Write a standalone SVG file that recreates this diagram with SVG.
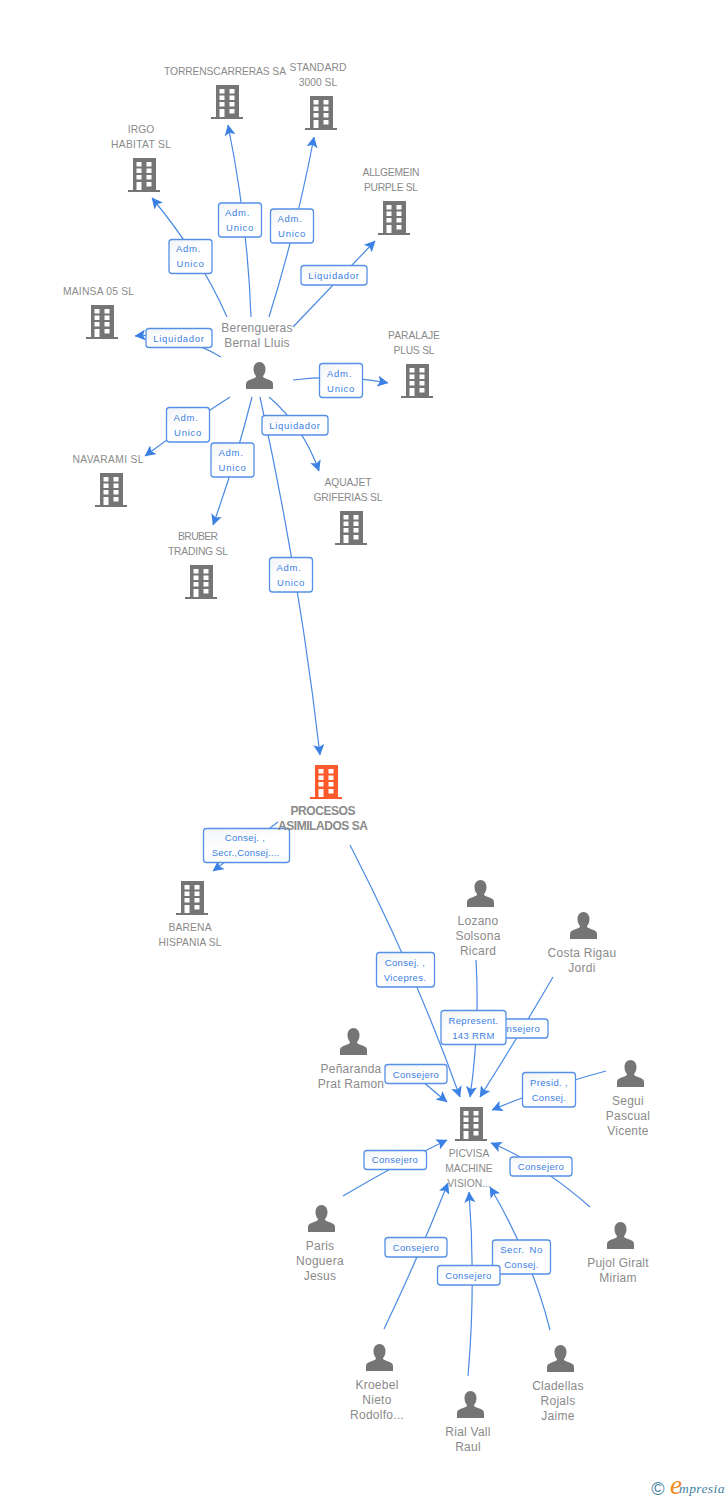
<svg xmlns="http://www.w3.org/2000/svg" width="728" height="1500" viewBox="0 0 728 1500">
<style>
text{font-family:"Liberation Sans",Arial,sans-serif}
.n{font-size:10.300px;fill:#8a8a8a;text-anchor:middle}
.p{font-size:12px;fill:#8a8a8a;text-anchor:middle;letter-spacing:.25px}
.b{font-size:12px;fill:#8a8a8a;text-anchor:middle;font-weight:bold}
.l{font-size:9.500px;fill:#3b80e4;text-anchor:middle;letter-spacing:.7px}
.t{letter-spacing:.35px}
.box{fill:url(#g);stroke:#5590e6;stroke-width:1.3}
.e{fill:none;stroke:#4a8ae4;stroke-width:1.2;marker-end:url(#a)}
</style>
<defs>
<linearGradient id="g" x1="0" y1="0" x2="0.6" y2="1"><stop offset="0" stop-color="#f1f3f6"/><stop offset=".55" stop-color="#fff"/></linearGradient>
<marker id="a" viewBox="0 0 11 11" refX="10.500" refY="5.500" markerWidth="11" markerHeight="11" markerUnits="userSpaceOnUse" orient="auto"><path d="M0 0L11 5.500L0 11L2.500 5.500z" fill="#3b80e4"/></marker>
<path id="bl" fill-rule="evenodd" d="M5 0H28V32H32V34H0V32H5zM8.500 4V8.500H13.500V4zM18.500 4V8.500H23.500V4zM8.500 10.500V15H13.500V10.500zM18.500 10.500V15H23.500V10.500zM8.500 17V21.500H13.500V17zM18.500 17V21.500H23.500V17zM8.500 24V32H13.500V24zM18.500 24V28.500H23.500V24z"/>
<path id="pe" d="M13.500 0C17 0 19.500 3 19.500 7C19.500 10 18.500 12.500 17 14C17 15.500 18 16 21 17C25 18.300 27 19.500 27 22V27H0V22C0 19.500 2 18.300 6 17C9 16 10 15.500 10 14C8.500 12.500 7.500 10 7.500 7C7.500 3 10 0 13.500 0z"/>
</defs>
<rect width="728" height="1500" fill="#fff"/>
<g id="connectors">
<path class="e" d="M221 357Q178 332 135 336"/>
<path class="e" d="M227 317Q200.500 256.500 152 198"/>
<path class="e" d="M251 317Q247.500 221 228 125"/>
<path class="e" d="M269 317Q297 227 314 137"/>
<path class="e" d="M293 327Q334 284 375 241"/>
<path class="e" d="M293 380Q340 374 388 383"/>
<path class="e" d="M230 397Q188 424 145 456"/>
<path class="e" d="M252 397Q236 461 213 525"/>
<path class="e" d="M269 397Q303 426 319 471"/>
<path class="e" d="M260 397Q299.500 576 320 755"/>
<path class="e" d="M278 822Q246 846 213 871"/>
<path class="e" d="M350 845Q415 971 460 1097"/>
<path class="e" d="M476 960Q480 1028 470 1097"/>
<path class="e" d="M553 977Q518 1037 480 1097"/>
<path class="e" d="M410 1070Q425 1084 447 1102"/>
<path class="e" d="M606 1071Q549 1086 492 1110"/>
<path class="e" d="M343 1196Q395 1165 447 1140"/>
<path class="e" d="M590 1207Q540 1163 491 1143"/>
<path class="e" d="M384 1329Q419 1256 448 1183"/>
<path class="e" d="M468 1376Q476 1284 469 1192"/>
<path class="e" d="M550 1330Q532 1258 490 1187"/>
</g>
<g id="edge-labels">
<g><rect class="box" x="218.500" y="203" width="43" height="34" rx="3"/><text class="l" x="237.500" y="216">Adm.</text><text class="l" x="240" y="231">Unico</text></g>
<g><rect class="box" x="270.500" y="209" width="43" height="34" rx="3"/><text class="l" x="290" y="222">Adm.</text><text class="l" x="292" y="237">Unico</text></g>
<g><rect class="box" x="169" y="239.500" width="43" height="34" rx="3"/><text class="l" x="188.500" y="252">Adm.</text><text class="l" x="190.500" y="267">Unico</text></g>
<g><rect class="box" x="301" y="265.500" width="66" height="19.500" rx="3"/><text class="l" x="334" y="279">Liquidador</text></g>
<g><rect class="box" x="146" y="328.500" width="66" height="19" rx="3"/><text class="l" x="179" y="342">Liquidador</text></g>
<g><rect class="box" x="319.500" y="363.500" width="43" height="34" rx="3"/><text class="l" x="339.500" y="377">Adm.</text><text class="l" x="341" y="392">Unico</text></g>
<g><rect class="box" x="166.500" y="407.500" width="43" height="34.500" rx="3"/><text class="l" x="186" y="421">Adm.</text><text class="l" x="188" y="436">Unico</text></g>
<g><rect class="box" x="211" y="443" width="43" height="34" rx="3"/><text class="l" x="231" y="456">Adm.</text><text class="l" x="232.500" y="471">Unico</text></g>
<g><rect class="box" x="262" y="415.500" width="66" height="19.500" rx="3"/><text class="l" x="295" y="429">Liquidador</text></g>
<g><rect class="box" x="269.500" y="557.500" width="43" height="34.500" rx="3"/><text class="l" x="289" y="571">Adm.</text><text class="l" x="291" y="586">Unico</text></g>
<g><rect class="box" x="203.500" y="828.500" width="86" height="34" rx="3"/><text class="l t" x="245" y="841">Consej. ,</text><text class="l" x="245.500" y="856" style="letter-spacing:.2px">Secr.,Consej....</text></g>
<g><rect class="box" x="376.500" y="952.500" width="58" height="34.500" rx="3"/><text class="l t" x="405" y="966">Consej. ,</text><text class="l t" x="405" y="981">Vicepres.</text></g>
<g><rect class="box" x="486" y="1019" width="62" height="19" rx="3"/><text class="l t" x="517" y="1032">Consejero</text></g>
<g><rect class="box" x="441" y="1010.500" width="65" height="34" rx="3"/><text class="l t" x="473.500" y="1024">Represent.</text><text class="l t" x="473.500" y="1039">143 RRM</text></g>
<g><rect class="box" x="385" y="1064.500" width="62" height="19" rx="3"/><text class="l t" x="416" y="1078">Consejero</text></g>
<g><rect class="box" x="522.500" y="1072.500" width="53" height="34.500" rx="3"/><text class="l t" x="549" y="1086">Presid. ,</text><text class="l t" x="549" y="1101">Consej.</text></g>
<g><rect class="box" x="364" y="1150.500" width="62.500" height="19" rx="3"/><text class="l t" x="395" y="1163">Consejero</text></g>
<g><rect class="box" x="510" y="1157" width="62" height="19" rx="3"/><text class="l t" x="541" y="1170">Consejero</text></g>
<g><rect class="box" x="385" y="1237.500" width="62" height="19.500" rx="3"/><text class="l t" x="416" y="1251">Consejero</text></g>
<g><rect class="box" x="492.500" y="1240" width="58" height="34" rx="3"/><text class="l" x="521.500" y="1253" style="word-spacing:2px;letter-spacing:.5px">Secr. No</text><text class="l t" x="521.500" y="1268">Consej.</text></g>
<g><rect class="box" x="437.500" y="1265.500" width="62.500" height="19.500" rx="3"/><text class="l t" x="468.500" y="1279">Consejero</text></g>
</g>
<g id="torrens" fill="#757575"><use href="#bl" x="211" y="85"/><text class="n" x="225" y="75" textLength="122">TORRENSCARRERAS SA</text></g>
<g id="standard" fill="#757575"><use href="#bl" x="305" y="96"/><text class="n" x="318" y="71" textLength="57">STANDARD</text><text class="n" x="318" y="86">3000 SL</text></g>
<g id="irgo" fill="#757575"><use href="#bl" x="128" y="158"/><text class="n" x="141" y="133">IRGO</text><text class="n" x="141" y="148" textLength="60">HABITAT SL</text></g>
<g id="allgemein" fill="#757575"><use href="#bl" x="378" y="201"/><text class="n" x="391" y="176" textLength="57">ALLGEMEIN</text><text class="n" x="391" y="191" textLength="54">PURPLE SL</text></g>
<g id="mainsa" fill="#757575"><use href="#bl" x="86" y="305"/><text class="n" x="98.500" y="295" textLength="71">MAINSA 05 SL</text></g>
<g id="paralaje" fill="#757575"><use href="#bl" x="401" y="364"/><text class="n" x="414" y="339">PARALAJE</text><text class="n" x="414" y="354" textLength="41">PLUS SL</text></g>
<g id="navarami" fill="#757575"><use href="#bl" x="95" y="473"/><text class="n" x="108" y="463" textLength="71">NAVARAMI SL</text></g>
<g id="aquajet" fill="#757575"><use href="#bl" x="335" y="511"/><text class="n" x="348" y="486" textLength="47">AQUAJET</text><text class="n" x="348" y="501" textLength="69">GRIFERIAS SL</text></g>
<g id="bruber" fill="#757575"><use href="#bl" x="185" y="565"/><text class="n" x="198" y="540" textLength="40">BRUBER</text><text class="n" x="198" y="555" textLength="60">TRADING SL</text></g>
<g id="procesos" fill="#ff5a2b"><use href="#bl" x="310" y="765"/><text class="b" x="323" y="815" textLength="65">PROCESOS</text><text class="b" x="323" y="830" textLength="90">ASIMILADOS SA</text></g>
<g id="barena" fill="#757575"><use href="#bl" x="176" y="881"/><text class="n" x="190" y="931" textLength="43">BARENA</text><text class="n" x="190" y="946" textLength="63">HISPANIA SL</text></g>
<g id="picvisa" fill="#757575"><use href="#bl" x="455" y="1107"/><text class="n" x="469" y="1157">PICVISA</text><text class="n" x="469" y="1172">MACHINE</text><text class="n" x="469" y="1187">VISION...</text></g>
<g id="berengueras" fill="#757575"><use href="#pe" x="246" y="362"/><text class="p" x="257" y="332">Berengueras</text><text class="p" x="257" y="347">Bernal Lluis</text></g>
<g id="lozano" fill="#757575"><use href="#pe" x="467" y="880"/><text class="p" x="478" y="925">Lozano</text><text class="p" x="478" y="940">Solsona</text><text class="p" x="478" y="955">Ricard</text></g>
<g id="costa" fill="#757575"><use href="#pe" x="570" y="912"/><text class="p" x="582" y="957">Costa Rigau</text><text class="p" x="582" y="972">Jordi</text></g>
<g id="penaranda" fill="#757575"><use href="#pe" x="340" y="1028"/><text class="p" x="351" y="1073">Peñaranda</text><text class="p" x="351" y="1088">Prat Ramon</text></g>
<g id="segui" fill="#757575"><use href="#pe" x="617" y="1060"/><text class="p" x="628" y="1105">Segui</text><text class="p" x="628" y="1120">Pascual</text><text class="p" x="628" y="1135">Vicente</text></g>
<g id="paris" fill="#757575"><use href="#pe" x="308" y="1205"/><text class="p" x="320" y="1250">Paris</text><text class="p" x="320" y="1265">Noguera</text><text class="p" x="320" y="1280">Jesus</text></g>
<g id="pujol" fill="#757575"><use href="#pe" x="607" y="1222"/><text class="p" x="618" y="1267">Pujol Giralt</text><text class="p" x="618" y="1282">Miriam</text></g>
<g id="kroebel" fill="#757575"><use href="#pe" x="366" y="1344"/><text class="p" x="377" y="1389">Kroebel</text><text class="p" x="377" y="1404">Nieto</text><text class="p" x="377" y="1419">Rodolfo...</text></g>
<g id="rial" fill="#757575"><use href="#pe" x="457" y="1391"/><text class="p" x="468" y="1436">Rial Vall</text><text class="p" x="468" y="1451">Raul</text></g>
<g id="cladellas" fill="#757575"><use href="#pe" x="547" y="1345"/><text class="p" x="558" y="1390">Cladellas</text><text class="p" x="558" y="1405">Rojals</text><text class="p" x="558" y="1420">Jaime</text></g>
<g id="credit">
<text x="658" y="1495" style="font-size:18px;fill:#3f7f9e;text-anchor:middle">©</text>
<text x="670" y="1494" style="font-family:'Liberation Serif',serif;font-style:italic;font-size:27px;fill:#f08a1d">e</text>
<text x="679" y="1493" style="font-family:'Liberation Serif',serif;font-style:italic;font-size:13.500px;fill:#3f7f9e;letter-spacing:.4px">mpresia</text>
</g>
</svg>
